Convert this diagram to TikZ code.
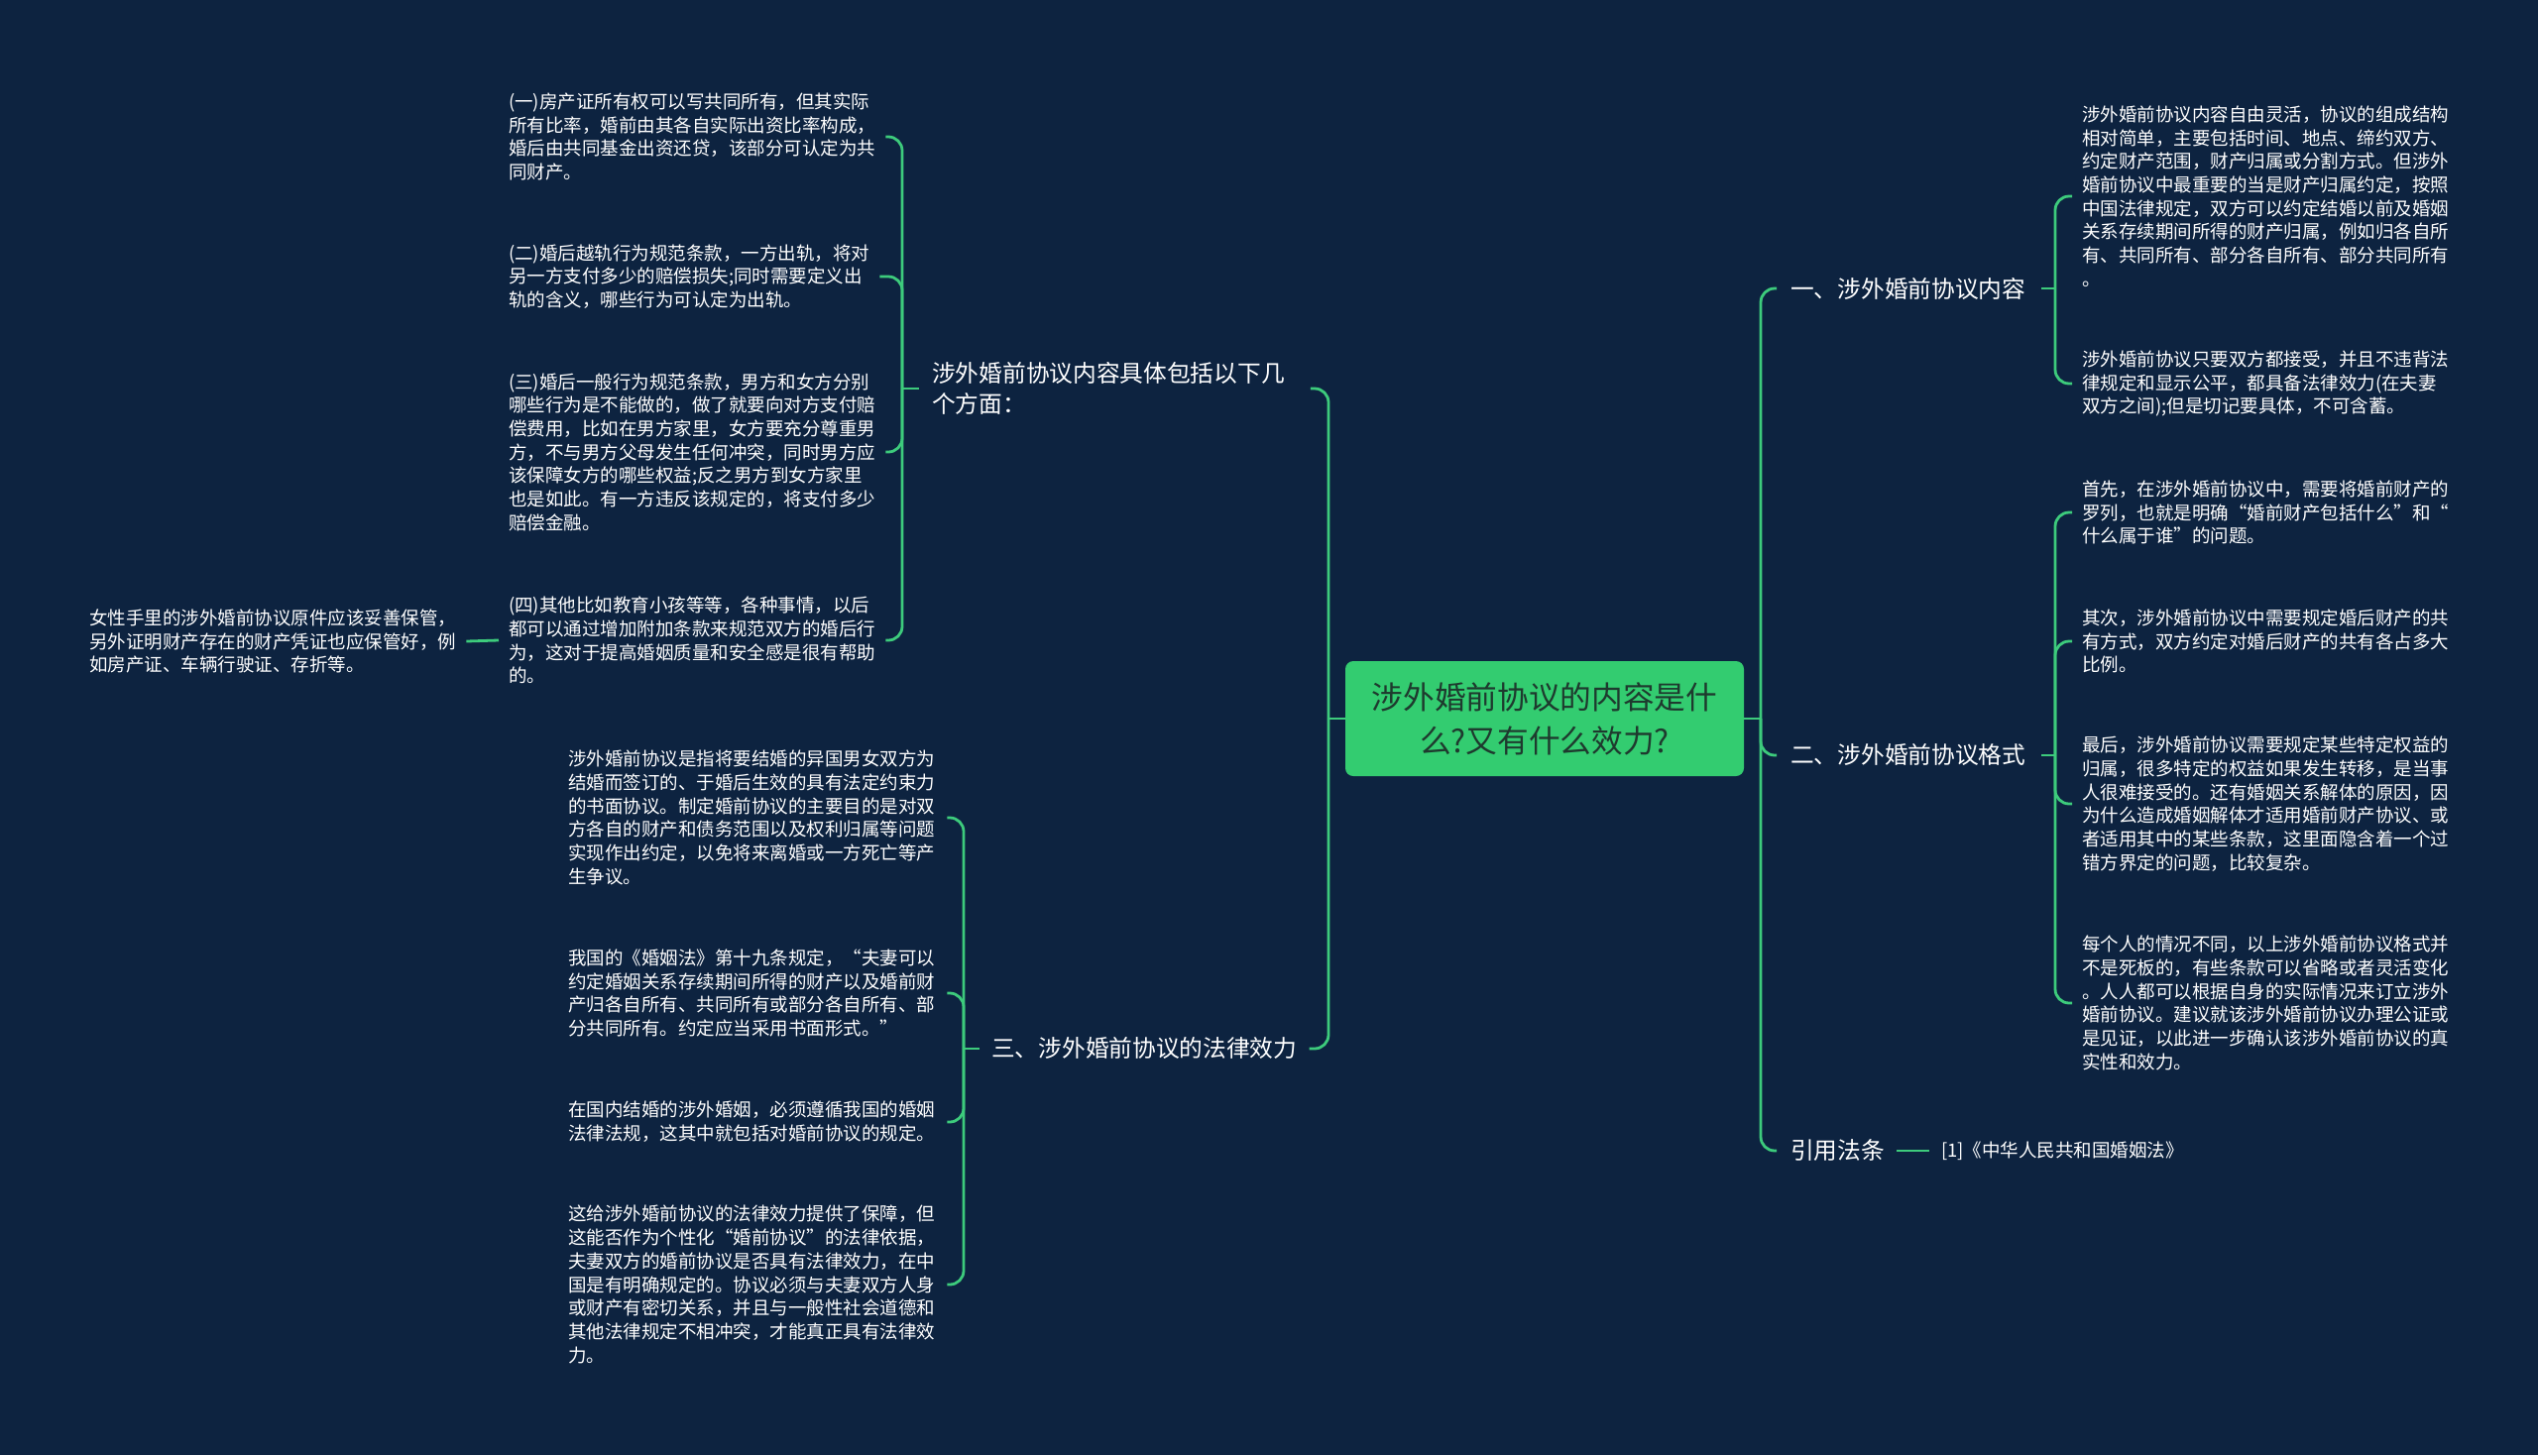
\documentclass[tikz,border=0pt]{standalone}
\usepackage{fontspec}
\setmainfont{Noto Sans CJK SC}
\definecolor{bg}{HTML}{0D2340}
\definecolor{ln}{HTML}{3DCB7C}
\definecolor{ctr}{HTML}{33CC70}
\definecolor{ctrtext}{HTML}{1E3A2E}
\begin{document}
\begin{tikzpicture}[x=1pt,y=-1pt,
  conn/.style={draw=ln,line width=2.8pt,rounded corners=14pt},
  txt/.style={text=white,inner sep=0pt,align=left,anchor=west,font=\fontsize{18.5}{23.7}\selectfont},
  lvl/.style={text=white,inner sep=0pt,align=left,anchor=west,font=\fontsize{23.7}{31}\selectfont},
  ctrbox/.style={fill=ctr,rounded corners=8pt,minimum width=402pt,minimum height=116pt,align=center,text=ctrtext,font=\fontsize{31.7}{44}\selectfont,inner sep=0pt}]
\useasboundingbox (0,0) rectangle (2560,1468);
\fill[bg] (0,0) rectangle (2560,1468);

% center
\node[ctrbox] (c) at (1558,725) {涉外婚前协议的内容是什\\么?又有什么效力?};

% right level 1
\coordinate (tR) at (1776,725);
\node[lvl] (n1) at (1806,291) {一、涉外婚前协议内容};
\node[lvl] (n2) at (1806,762) {二、涉外婚前协议格式};
\node[lvl] (n3) at (1806,1161) {引用法条};
\node[txt] (ref) at (1958,1161) {[1]《中华人民共和国婚姻法》};
\draw[conn] (c.east) -- (tR);
\draw[conn] (tR) |- ([xshift=-14pt]n1.west);
\draw[conn] (tR) |- ([xshift=-14pt]n2.west);
\draw[conn] (tR) |- ([xshift=-14pt]n3.west);
\draw[conn] ([xshift=12pt]n3.east) -- ([xshift=-12pt]ref.west);

% right children
\node[txt] (r11) at (2100,198) {涉外婚前协议内容自由灵活，协议的组成结构\\相对简单，主要包括时间、地点、缔约双方、\\约定财产范围，财产归属或分割方式。但涉外\\婚前协议中最重要的当是财产归属约定，按照\\中国法律规定，双方可以约定结婚以前及婚姻\\关系存续期间所得的财产归属，例如归各自所\\有、共同所有、部分各自所有、部分共同所有\\。};
\node[txt] (r12) at (2100,387) {涉外婚前协议只要双方都接受，并且不违背法\\律规定和显示公平，都具备法律效力(在夫妻\\双方之间);但是切记要具体，不可含蓄。};
\node[txt] (r21) at (2100,517) {首先，在涉外婚前协议中，需要将婚前财产的\\罗列，也就是明确“婚前财产包括什么”和“\\什么属于谁”的问题。};
\node[txt] (r22) at (2100,647) {其次，涉外婚前协议中需要规定婚后财产的共\\有方式，双方约定对婚后财产的共有各占多大\\比例。};
\node[txt] (r23) at (2100,811) {最后，涉外婚前协议需要规定某些特定权益的\\归属，很多特定的权益如果发生转移，是当事\\人很难接受的。还有婚姻关系解体的原因，因\\为什么造成婚姻解体才适用婚前财产协议、或\\者适用其中的某些条款，这里面隐含着一个过\\错方界定的问题，比较复杂。};
\node[txt] (r24) at (2100,1012) {每个人的情况不同，以上涉外婚前协议格式并\\不是死板的，有些条款可以省略或者灵活变化\\。人人都可以根据自身的实际情况来订立涉外\\婚前协议。建议就该涉外婚前协议办理公证或\\是见证，以此进一步确认该涉外婚前协议的真\\实性和效力。};

\coordinate (bR1) at (2073,291);
\draw[conn] ([xshift=16pt]n1.east) -- (bR1);
\draw[conn] (bR1) |- ([xshift=-10pt]r11.west);
\draw[conn] (bR1) |- ([xshift=-10pt]r12.west);
\coordinate (bR2) at (2073,762);
\draw[conn] ([xshift=16pt]n2.east) -- (bR2);
\draw[conn] (bR2) |- ([xshift=-10pt]r21.west);
\draw[conn] (bR2) |- ([xshift=-10pt]r22.west);
\draw[conn] (bR2) |- ([xshift=-10pt]r23.west);
\draw[conn] (bR2) |- ([xshift=-10pt]r24.west);

% left level 1
\coordinate (tL) at (1340,725);
\node[lvl] (m1) at (940,392) {涉外婚前协议内容具体包括以下几\\个方面：};
\node[lvl] (m2) at (1000,1058) {三、涉外婚前协议的法律效力};
\draw[conn] (c.west) -- (tL);
\draw[conn] (tL) |- ([xshift=26pt]m1.east);
\draw[conn] (tL) |- ([xshift=12pt]m2.east);

% left children of m1
\node[txt] (a1) at (513,138) {(一)房产证所有权可以写共同所有，但其实际\\所有比率，婚前由其各自实际出资比率构成，\\婚后由共同基金出资还贷，该部分可认定为共\\同财产。};
\node[txt] (a2) at (513,279) {(二)婚后越轨行为规范条款，一方出轨，将对\\另一方支付多少的赔偿损失;同时需要定义出\\轨的含义，哪些行为可认定为出轨。};
\node[txt] (a3) at (513,456) {(三)婚后一般行为规范条款，男方和女方分别\\哪些行为是不能做的，做了就要向对方支付赔\\偿费用，比如在男方家里，女方要充分尊重男\\方，不与男方父母发生任何冲突，同时男方应\\该保障女方的哪些权益;反之男方到女方家里\\也是如此。有一方违反该规定的，将支付多少\\赔偿金融。};
\node[txt] (a4) at (513,646) {(四)其他比如教育小孩等等，各种事情，以后\\都可以通过增加附加条款来规范双方的婚后行\\为，这对于提高婚姻质量和安全感是很有帮助\\的。};
\node[txt] (fl) at (90,647) {女性手里的涉外婚前协议原件应该妥善保管，\\另外证明财产存在的财产凭证也应保管好，例\\如房产证、车辆行驶证、存折等。};

\coordinate (bL1) at (910,392);
\draw[conn] ([xshift=-13pt]m1.west) -- (bL1);
\draw[conn] (bL1) |- ([xshift=10pt]a1.east);
\draw[conn] (bL1) |- ([xshift=10pt]a2.east);
\draw[conn] (bL1) |- ([xshift=10pt]a3.east);
\draw[conn] (bL1) |- ([xshift=10pt]a4.east);
\draw[conn] ([xshift=-10pt]a4.west) -- ([xshift=10pt]fl.east);

% left children of m2
\node[txt] (c1) at (573,825) {涉外婚前协议是指将要结婚的异国男女双方为\\结婚而签订的、于婚后生效的具有法定约束力\\的书面协议。制定婚前协议的主要目的是对双\\方各自的财产和债务范围以及权利归属等问题\\实现作出约定，以免将来离婚或一方死亡等产\\生争议。};
\node[txt] (c2) at (573,1002) {我国的《婚姻法》第十九条规定，“夫妻可以\\约定婚姻关系存续期间所得的财产以及婚前财\\产归各自所有、共同所有或部分各自所有、部\\分共同所有。约定应当采用书面形式。”};
\node[txt] (c3) at (573,1132) {在国内结婚的涉外婚姻，必须遵循我国的婚姻\\法律法规，这其中就包括对婚前协议的规定。};
\node[txt] (c4) at (573,1296) {这给涉外婚前协议的法律效力提供了保障，但\\这能否作为个性化“婚前协议”的法律依据，\\夫妻双方的婚前协议是否具有法律效力，在中\\国是有明确规定的。协议必须与夫妻双方人身\\或财产有密切关系，并且与一般性社会道德和\\其他法律规定不相冲突，才能真正具有法律效\\力。};

\coordinate (bL2) at (972,1058);
\draw[conn] ([xshift=-12pt]m2.west) -- (bL2);
\draw[conn] (bL2) |- ([xshift=12pt]c1.east);
\draw[conn] (bL2) |- ([xshift=12pt]c2.east);
\draw[conn] (bL2) |- ([xshift=12pt]c3.east);
\draw[conn] (bL2) |- ([xshift=12pt]c4.east);
\end{tikzpicture}
\end{document}
